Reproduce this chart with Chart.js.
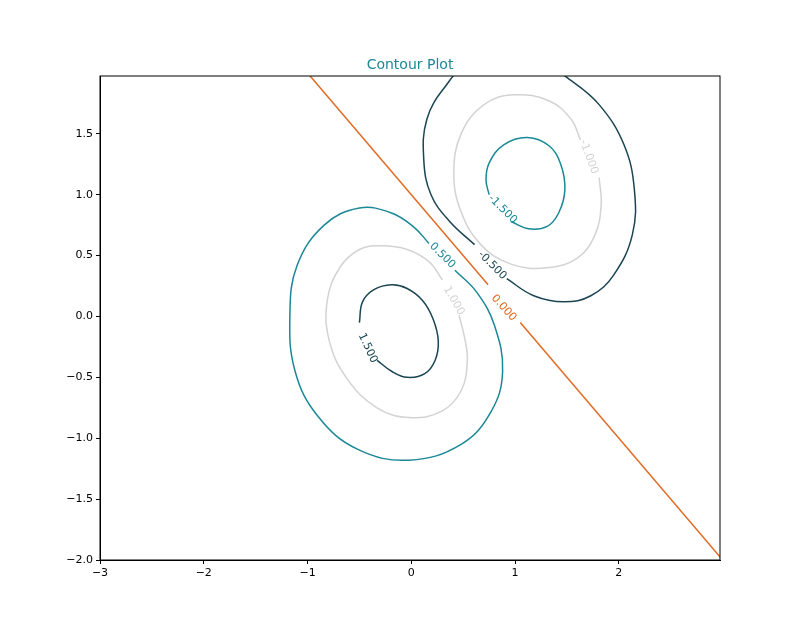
<!DOCTYPE html>
<html>
<head>
<meta charset="UTF-8">
<script src="https://cdn.jsdelivr.net/npm/chart.js"></script>
<style>
  body { margin: 0; background: #fff; }
  #wrap { width: 800px; height: 640px; }
</style>
</head>
<body>
<div id="wrap"><canvas id="grafico"></canvas></div>
<script>
// contour lines, [x, y] in data units
const nivel15 = [[-0.50,-0.05],[-0.47,0.12],[-0.36,0.22],[-0.19,0.26],[-0.04,0.23],[0.11,0.13],[0.21,-0.02],[0.26,-0.20],[0.23,-0.36],[0.13,-0.47],[-0.04,-0.50],[-0.19,-0.45],[-0.33,-0.36]];
const nivel10 = [[0.46,0.01],[0.51,-0.16],[0.54,-0.36],[0.48,-0.61],[0.29,-0.78],[-0.02,-0.83],[-0.33,-0.75],[-0.62,-0.51],[-0.79,-0.20],[-0.81,0.13],[-0.69,0.40],[-0.50,0.55],[-0.29,0.58],[-0.04,0.55],[0.17,0.45],[0.30,0.30]];
const nivel05 = [[0.42,0.38],[0.63,0.20],[0.80,-0.07],[0.88,-0.45],[0.77,-0.78],[0.48,-1.05],[-0.02,-1.18],[-0.52,-1.09],[-0.90,-0.82],[-1.12,-0.45],[-1.17,0.01],[-1.10,0.42],[-0.84,0.75],[-0.50,0.89],[-0.19,0.85],[0.03,0.73],[0.17,0.60]];
const nivel00a = [[-1.0,2.0],[0.74,0.26]];
const nivel00b = [[1.05,-0.05],[3.0,-2.0]];
const nivelM05 = [[0.92,0.31],[1.18,0.17],[1.47,0.12],[1.73,0.17],[1.95,0.34],[2.13,0.67],[2.15,1.04],[2.05,1.41],[1.81,1.74],[1.52,1.95],[1.28,2.07],[0.56,2.07],[0.32,1.88],[0.15,1.62],[0.12,1.29],[0.19,1.00],[0.37,0.78],[0.61,0.59]];
const nivelM10 = [[1.81,1.14],[1.83,0.92],[1.77,0.67],[1.60,0.48],[1.31,0.40],[0.96,0.43],[0.67,0.59],[0.48,0.86],[0.41,1.17],[0.48,1.50],[0.70,1.74],[0.99,1.82],[1.33,1.77],[1.54,1.62],[1.63,1.45]];
const nivelM15 = [[0.96,0.78],[1.13,0.72],[1.31,0.74],[1.42,0.85],[1.48,1.04],[1.44,1.25],[1.33,1.40],[1.12,1.47],[0.89,1.41],[0.75,1.26],[0.72,1.12],[0.75,1.00]];

const rotulos = ['1.500','1.000','0.500','0.000','-0.500','-1.000','-1.500'];
const rotuloPos = [[-0.42,-0.26],[0.41,0.13],[0.30,0.50],[0.89,0.07],[0.78,0.42],[1.71,1.31],[0.88,0.88]];
const rotuloAng = [65,60,45,48,45,70,45];

const xTicks = [-3,-2,-1,0,1,2];
const yTicks = [-2.0,-1.5,-1.0,-0.5,0.0,0.5,1.0,1.5];

const escuro = '#1b4552', azul = '#1a8896', cinza = '#d3d3d3', laranja = '#e06a23';
const corRotulo = [escuro, cinza, azul, laranja, escuro, cinza, azul];

function linha(pts, cor) {
  return { data: pts.map(p => ({x: p[0], y: p[1]})), borderColor: cor, borderWidth: 1.5,
           showLine: true, pointRadius: 0, fill: false, tension: 0.4 };
}

const menos = v => String(v).replace('-', '\u2212');

const moldura = {
  id: 'moldura',
  afterDraw(chart) {
    const c = chart.ctx, a = chart.chartArea;
    c.save();
    c.strokeStyle = '#000'; c.lineWidth = 1;
    c.strokeRect(a.left, a.top, a.right - a.left, a.bottom - a.top);
    c.fillStyle = azul; c.font = '14px "DejaVu Sans"'; c.textAlign = 'center';
    c.fillText('Contour Plot', (a.left + a.right) / 2, a.top - 7);
    c.font = '11px "DejaVu Sans"'; c.textBaseline = 'middle';
    rotulos.forEach((t, i) => {
      c.save();
      c.translate(chart.scales.x.getPixelForValue(rotuloPos[i][0]), chart.scales.y.getPixelForValue(rotuloPos[i][1]));
      c.rotate(rotuloAng[i] * Math.PI / 180);
      c.fillStyle = corRotulo[i];
      c.fillText(t, 0, 0);
      c.restore();
    });
    c.restore();
  }
};

new Chart(document.getElementById('grafico'), {
  type: 'scatter',
  data: { datasets: [
    linha(nivel15, escuro), linha(nivel10, cinza), linha(nivel05, azul),
    Object.assign(linha(nivel00a, laranja), {tension: 0}), Object.assign(linha(nivel00b, laranja), {tension: 0}),
    linha(nivelM05, escuro), linha(nivelM10, cinza), linha(nivelM15, azul)
  ]},
  options: {
    responsive: true, maintainAspectRatio: false, animation: false,
    layout: { padding: { top: 76, right: 80 } },
    plugins: { legend: { display: false }, tooltip: { enabled: false } },
    scales: {
      x: { min: -3, max: 2.975,
        afterBuildTicks: s => { s.ticks = xTicks.map(v => ({value: v})); },
        afterFit: s => { s.height = 80; },
        grid: { drawOnChartArea: false, tickLength: 4, color: '#000' }, border: { color: '#000' },
        ticks: { color: '#000', font: { family: 'DejaVu Sans', size: 11 }, maxRotation: 0, callback: v => menos(v) } },
      y: { min: -2, max: 1.975,
        afterBuildTicks: s => { s.ticks = yTicks.map(v => ({value: v})); },
        afterFit: s => { s.width = 100; },
        grid: { drawOnChartArea: false, tickLength: 4, color: '#000' }, border: { color: '#000' },
        ticks: { color: '#000', font: { family: 'DejaVu Sans', size: 11 }, callback: v => menos(v.toFixed(1)) } }
    }
  },
  plugins: [moldura]
});
</script>
</body>
</html>
